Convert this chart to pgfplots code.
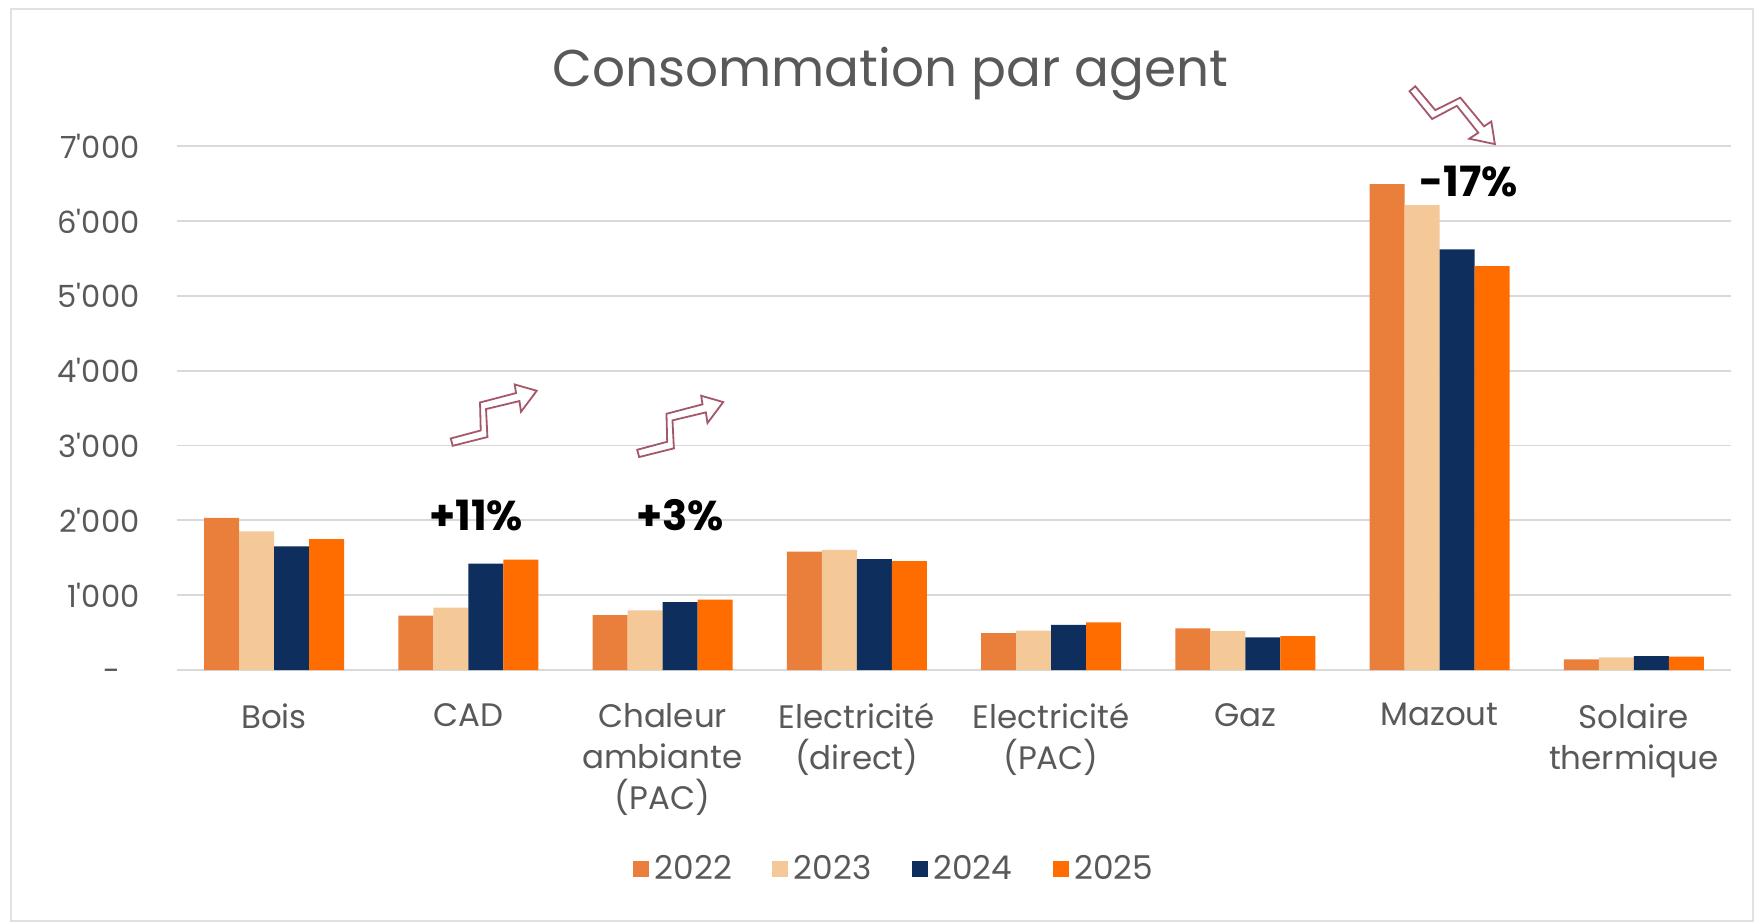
\documentclass[border=0pt]{standalone}
\usepackage{fontspec}
\setmainfont{Poppins}
\usepackage{pgfplots}
\pgfplotsset{compat=1.18}
\usetikzlibrary{calc}

\definecolor{c2022}{HTML}{E97F3A}
\definecolor{c2023}{HTML}{F5C898}
\definecolor{c2024}{HTML}{0E2F5E}
\definecolor{c2025}{HTML}{FF6C00}
\definecolor{txtgray}{HTML}{595959}
\definecolor{gridgray}{HTML}{D9D9D9}
\definecolor{rose}{HTML}{A5576A}

% zigzag outline arrow, tip at origin, units of 1 px
\newcommand{\zigzag}[2]{%
  \draw[rose, fill=white, line width=0.65pt, line join=miter, shift={(#1)}, rotate=#2, x=0.36pt, y=0.36pt]
    (-84,-55) -- (-49.3,-46.3) -- (-50.7,-18.3) -- (-17.3,-10.3) -- (-15.7,-21) -- (0,0)
    -- (-22,6.3) -- (-20.7,-2.3) -- (-56.7,-11.7) -- (-56,-39.7) -- (-86,-47.7) -- cycle;}

\begin{document}
\begin{tikzpicture}
\begin{axis}[
  scale only axis, width=559.4pt, height=188.6pt,
  ybar=0pt, bar width=12.6pt,
  xmin=-0.5, xmax=7.5, ymin=0, ymax=7000,
  xtick={0,...,7},
  xticklabels={Bois, CAD, {Chaleur\\ambiante\\(PAC)}, {Electricité\\(direct)}, {Electricité\\(PAC)}, Gaz, Mazout, {Solaire\\thermique}},
  ytick={0,1000,...,7000},
  yticklabels={-\phantom{0}, 1\textquotesingle000, 2\textquotesingle000, 3\textquotesingle000, 4\textquotesingle000, 5\textquotesingle000, 6\textquotesingle000, 7\textquotesingle000},
  axis line style={draw=none}, tick style={draw=none},
  ymajorgrids, major grid style={draw=gridgray, line width=0.7pt},
  xticklabel style={align=center, font=\fontsize{11.7}{14.8}\selectfont, text=txtgray, yshift=-4.2pt},
  yticklabel style={font=\fontsize{11}{13}\selectfont, text=txtgray, xshift=-10pt},
  clip=false,
  legend style={draw=none, fill=none, at={(0.4627,-0.38)}, anchor=center,
    legend columns=4, font=\fontsize{11.8}{13}\selectfont, text=txtgray,
    /tikz/every even column/.append style={column sep=12.5pt}},
  legend image code/.code={\fill[#1, draw=none] (0pt,-2.9pt) rectangle (5.8pt,2.9pt);},
]
\addplot[fill=c2022, draw=none] coordinates {(0,2031) (1,728) (2,732) (3,1582) (4,492) (5,556) (6,6491) (7,142)};
\addplot[fill=c2023, draw=none] coordinates {(0,1853) (1,835) (2,797) (3,1604) (4,525) (5,520) (6,6210) (7,169)};
\addplot[fill=c2024, draw=none] coordinates {(0,1652) (1,1420) (2,908) (3,1483) (4,604) (5,436) (6,5620) (7,187)};
\addplot[fill=c2025, draw=none] coordinates {(0,1750) (1,1475) (2,939) (3,1456) (4,635) (5,453) (6,5397) (7,178)};
\legend{2022, 2023, 2024, 2025}

\node[font=\fontsize{18.6}{22}\selectfont, text=txtgray] at (rel axis cs:0.459,1.138) {Consommation par agent};
\node[font=\fontsize{15}{18}\selectfont\bfseries] at (axis cs:1.04,2070) {+11\%};
\node[font=\fontsize{15}{18}\selectfont\bfseries] at (axis cs:2.09,2070) {+3\%};
\node[font=\fontsize{15}{18}\selectfont\bfseries] at (axis cs:6.15,6532) {-17\%};
\coordinate (a1) at (axis cs:1.352,3731);
\coordinate (a2) at (axis cs:2.312,3580);
\coordinate (a3) at (axis cs:6.285,7027);
\end{axis}
\zigzag{a1}{0}
\zigzag{a2}{0}
\zigzag{a3}{-65}
\draw[gridgray!80, line width=0.7pt] ($(current axis.south west)+(-59.76pt,-90.36pt)$) rectangle ++(627.1pt,328.3pt);
\path ($(current axis.south west)+(-63.72pt,-90.72pt)$) rectangle ++(632.16pt,331.92pt);
\end{tikzpicture}
\end{document}
